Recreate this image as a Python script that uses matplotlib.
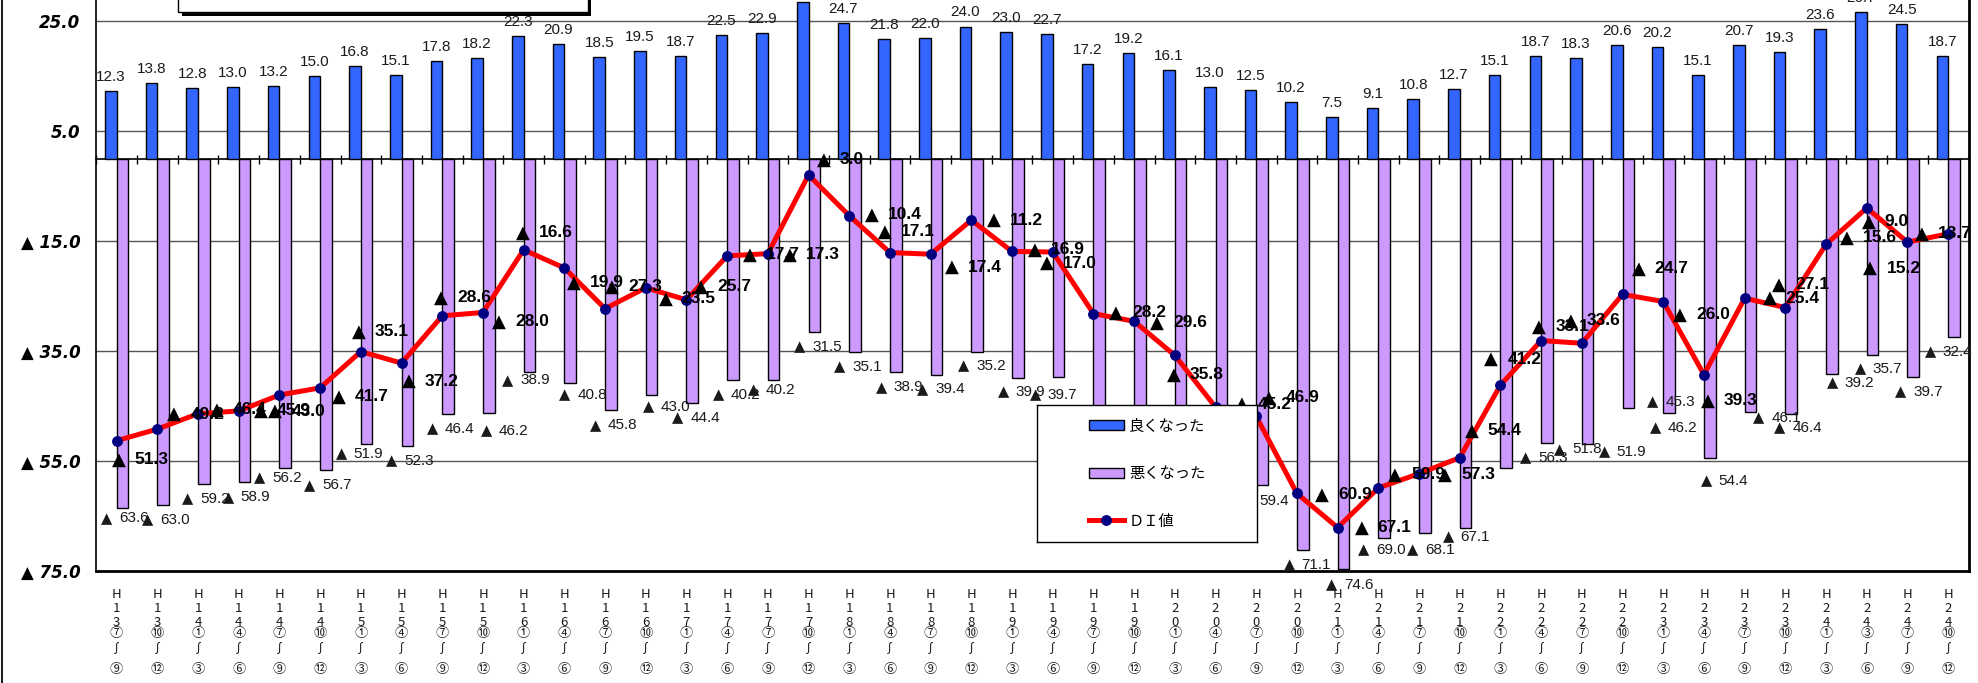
import numpy as np
import matplotlib
matplotlib.use("Agg")
import matplotlib.pyplot as plt
from matplotlib.patches import Rectangle, Patch
from matplotlib.lines import Line2D

# ---- data -------------------------------------------------------------
periods = [
    "H13⑦～⑨", "H13⑩～⑫",
    "H14①～③", "H14④～⑥", "H14⑦～⑨", "H14⑩～⑫",
    "H15①～③", "H15④～⑥", "H15⑦～⑨", "H15⑩～⑫",
    "H16①～③", "H16④～⑥", "H16⑦～⑨", "H16⑩～⑫",
    "H17①～③", "H17④～⑥", "H17⑦～⑨", "H17⑩～⑫",
    "H18①～③", "H18④～⑥", "H18⑦～⑨", "H18⑩～⑫",
    "H19①～③", "H19④～⑥", "H19⑦～⑨", "H19⑩～⑫",
    "H20①～③", "H20④～⑥", "H20⑦～⑨", "H20⑩～⑫",
    "H21①～③", "H21④～⑥", "H21⑦～⑨", "H21⑩～⑫",
    "H22①～③", "H22④～⑥", "H22⑦～⑨", "H22⑩～⑫",
    "H23①～③", "H23④～⑥", "H23⑦～⑨", "H23⑩～⑫",
    "H24①～③", "H24③～⑥", "H24⑦～⑨", "H24⑩～⑫",
]

# share answering "got better" (%)
improved = [12.3, 13.8, 12.8, 13.0, 13.2, 15.0, 16.8, 15.1, 17.8, 18.2,
            22.3, 20.9, 18.5, 19.5, 18.7, 22.5, 22.9, 28.5, 24.7, 21.8,
            22.0, 24.0, 23.0, 22.7, 17.2, 19.2, 16.1, 13.0, 12.5, 10.2,
            7.5, 9.1, 10.8, 12.7, 15.1, 18.7, 18.3, 20.6, 20.2, 15.1,
            20.7, 19.3, 23.6, 26.7, 24.5, 18.7]

# share answering "got worse" (%)
worsened = [63.6, 63.0, 59.2, 58.9, 56.2, 56.7, 51.9, 52.3, 46.4, 46.2,
            38.9, 40.8, 45.8, 43.0, 44.4, 40.2, 40.2, 31.5, 35.1, 38.9,
            39.4, 35.2, 39.9, 39.7, 45.4, 48.8, 51.9, 58.2, 59.4, 71.1,
            74.6, 69.0, 68.1, 67.1, 56.3, 51.8, 51.9, 45.3, 46.2, 54.4,
            46.1, 46.4, 39.2, 35.7, 39.7, 32.4]

# diffusion index = better - worse
di_values = [round(g - b, 1) for g, b in zip(improved, worsened)]

y_ticks = [25, 5, -15, -35, -55, -75]

# label placement nudges in pixels (right, down)
di_label_nudge = [(-5, 19), (10, -15), (12, -4), (15, 0), (-11, 16), (12, 9),
                  (-9, -20), (0, 18), (-8, -18), (9, 9), (-8, -17), (3, 15),
                  (0, -22), (13, 11), (8, -13), (16, -1), (15, 1), (8, -15),
                  (16, -1), (-12, -21), (14, 13), (16, 0), (16, -2), (-13, 11),
                  (16, -1), (16, 1), (-8, 19), (19, -3), (6, -19), (18, 1),
                  (17, 0), (10, -13), (19, 1), (5, -27), (-16, -26), (-9, -14),
                  (-18, -23), (9, -26), (10, 13), (-3, 26), (18, 0), (-13, -23),
                  (14, -7), (-5, 14), (-44, 26), (-33, 0)]
worse_label_nudge = [(2, 10), (2, 15), (1, 15), (1, 15), (-8, 10), (1, 15),
                     (-8, 10), (2, 15), (2, 15), (15, 18), (-4, 8), (12, 12),
                     (2, 15), (14, 12), (3, 15), (3, 15), (-3, 10), (3, 15),
                     (2, 15), (3, 15), (4, 14), (4, 14), (3, 14), (-6, 18),
                     (3, 15), (3, 15), (3, 15), (3, 15), (2, 16), (4, 15),
                     (6, 16), (-3, 12), (5, 17), (0, 9), (37, -10), (30, 6),
                     (34, 8), (42, -6), (4, 15), (14, 23), (26, 6), (6, 14),
                     (18, 9), (5, 14), (5, 15), (-6, 15)]

# ---- figure geometry (pixels) ----------------------------------------
W, H, DPI = 1978, 683, 100
AX_LEFT, AX_RIGHT = 96.3, 1968.5
AX_BOTTOM = 571            # from the top edge
PX_PER_UNIT = 5.5
Y_MIN, Y_MAX = -75, 35


def pt(pixels):
    return pixels * 72.0 / DPI


LATIN = ["Liberation Sans", "DejaVu Sans"]
SYMBOL = ["DejaVu Sans"]
CJK = ["Noto Sans CJK JP", "DejaVu Sans"]
BLUE = "#3366FF"
PURPLE = "#CC99FF"
NAVY = "#000080"
INK = "#1a1a1a"

fig = plt.figure(figsize=(W / DPI, H / DPI), dpi=DPI)
fig.patch.set_facecolor("white")

ax_h = (Y_MAX - Y_MIN) * PX_PER_UNIT
ax = fig.add_axes([AX_LEFT / W, (H - AX_BOTTOM) / H,
                   (AX_RIGHT - AX_LEFT) / W, ax_h / H])

n = len(periods)
x = np.arange(n)
bw = 0.285

ax.bar(x - bw / 2, improved, bw, color=BLUE, edgecolor="black",
       linewidth=1.0, zorder=3)
ax.bar(x + bw / 2, [-v for v in worsened], bw, color=PURPLE,
       edgecolor="black", linewidth=1.0, zorder=3)
ax.plot(x, di_values, color="red", linewidth=3.6, marker="o",
        markersize=6.8, markerfacecolor=NAVY, markeredgecolor=NAVY,
        zorder=5)

ax.set_xlim(-0.5, n - 0.5)
ax.set_ylim(Y_MIN, Y_MAX)


def negative_label(xy, left_px, down_px, value, size, tri_size, gap_px,
                   weight, color, z):
    """Draw '▲ value' with a full-size triangle glyph and the number after it."""
    ax.annotate("▲", xy=xy, xytext=(pt(left_px), -pt(down_px)),
                textcoords="offset points", ha="left", va="center",
                fontsize=tri_size, color=color, family=SYMBOL,
                annotation_clip=False, zorder=z)
    ax.annotate(f"{abs(value):.1f}", xy=xy,
                xytext=(pt(left_px + gap_px), -pt(down_px)),
                textcoords="offset points", ha="left", va="center",
                fontsize=size, fontweight=weight, color=color, family=LATIN,
                annotation_clip=False, zorder=z)


# value labels
for i, v in enumerate(improved):
    ax.annotate(f"{v:.1f}", xy=(i - bw / 2, v), xytext=(0, pt(14)),
                textcoords="offset points", ha="center", va="center",
                fontsize=11, color=INK, family=LATIN,
                annotation_clip=False, zorder=6)

for i, v in enumerate(worsened):
    dx, dy = worse_label_nudge[i]
    negative_label((i + bw / 2, -v), dx - 23, dy, v, 11, 10.5, 18,
                   "normal", INK, 6)

for i, v in enumerate(di_values):
    dx, dy = di_label_nudge[i]
    negative_label((i, v), dx, dy, v, 12.5, 13, 23, "bold", "black", 7)

# y axis
ax.set_yticks(y_ticks)
ax.set_yticklabels([f"{t:.1f}" if t >= 0 else f"▲ {abs(t):.1f}"
                    for t in y_ticks],
                   fontsize=12, fontweight="bold", fontstyle="italic",
                   family=SYMBOL)
ax.tick_params(axis="y", length=0, pad=pt(16))
ax.yaxis.grid(True, color="#555555", linewidth=1.0)
ax.set_axisbelow(True)

# zero line carries the category boundary ticks
ax.spines["top"].set_position(("data", 0))
ax.spines["top"].set_linewidth(1.2)
ax.xaxis.set_ticks_position("top")
ax.set_xticks(np.arange(-0.5, n, 1.0))
ax.tick_params(axis="x", direction="inout", length=pt(9), width=1.0,
               labeltop=False, labelbottom=False, color="black")
ax.spines["left"].set_linewidth(1.2)
ax.spines["bottom"].set_linewidth(2.0)
ax.spines["right"].set_linewidth(2.0)

# vertically stacked period labels
stack_offsets = [24, 37, 51, 63, 78, 99]
xaxis_tf = ax.get_xaxis_transform()
for i, lab in enumerate(periods):
    chars = list(lab.replace("～", "∫"))
    for ch, off in zip(chars, stack_offsets):
        ax.annotate(ch, xy=(i, 0), xycoords=xaxis_tf,
                    xytext=(0, -pt(off)), textcoords="offset points",
                    ha="center", va="center", fontsize=9.5, color=INK,
                    family=CJK, annotation_clip=False)

# legend box
lg = fig.add_axes([1037 / W, (H - 542) / H, 220 / W, 137 / H], zorder=10)
lg.set_facecolor("white")
lg.set_xticks([])
lg.set_yticks([])
for s in lg.spines.values():
    s.set_linewidth(1.0)
    s.set_color("black")
handles = [
    Patch(facecolor=BLUE, edgecolor="black", linewidth=1.0),
    Patch(facecolor=PURPLE, edgecolor="black", linewidth=1.0),
    Line2D([], [], color="red", linewidth=3.6, marker="o", markersize=6.8,
           markerfacecolor=NAVY, markeredgecolor=NAVY),
]
lg.legend(handles, ["良くなった", "悪くなった", "ＤＩ値"], loc="center",
          frameon=False, prop={"family": CJK, "size": 11},
          handlelength=2.3, handleheight=0.65, handletextpad=0.35,
          labelspacing=2.0, numpoints=1)

# title frame along the top edge, with its drop shadow
fig.add_artist(Rectangle((182 / W, (H - 15.5) / H), 409 / W, 40 / H,
                         transform=fig.transFigure, facecolor="black",
                         edgecolor="none"))
fig.add_artist(Rectangle((178 / W, (H - 11.5) / H), 410 / W, 40 / H,
                         transform=fig.transFigure, facecolor="white",
                         edgecolor="black", linewidth=1.0))
# outer chart frame (left edge)
fig.add_artist(Line2D([1.5 / W, 1.5 / W], [0, 1], transform=fig.transFigure,
                      color="#222222", linewidth=1.5))

fig.savefig("out.png", dpi=DPI, facecolor="white")
